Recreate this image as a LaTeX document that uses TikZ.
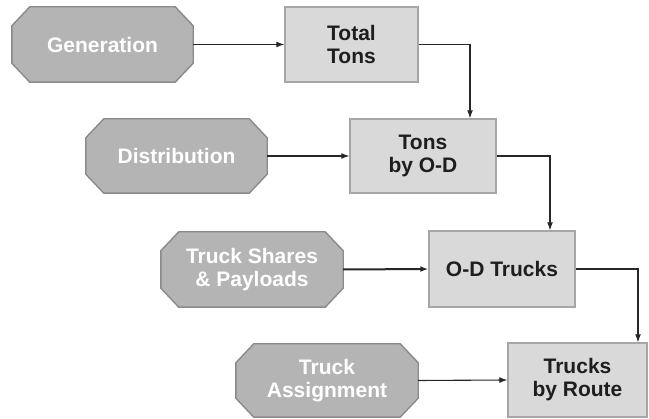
\documentclass[tikz,border=0pt]{standalone}
\usepackage{fontspec}
\setmainfont{Liberation Sans}
\usetikzlibrary{arrows.meta,calc}
\definecolor{octfill}{HTML}{B4B4B4}
\definecolor{octline}{HTML}{8A8A8A}
\definecolor{boxfill}{HTML}{D9D9D9}
\definecolor{boxline}{HTML}{A6A6A6}
\definecolor{txtdark}{HTML}{1E1E1E}
\pgfdeclarelayer{bg}
\pgfsetlayers{bg,main}
\newcommand\octashape[1]{%
  \begin{pgfonlayer}{bg}
  \draw[octpath] ($(#1.north west)+(18,0)$) -- ($(#1.north east)+(-18,0)$)
    -- ($(#1.north east)+(0,19)$) -- ($(#1.south east)+(0,-19)$)
    -- ($(#1.south east)+(-18,0)$) -- ($(#1.south west)+(18,0)$)
    -- ($(#1.south west)+(0,-19)$) -- ($(#1.north west)+(0,19)$) -- cycle;
  \end{pgfonlayer}}
\begin{document}
\begin{tikzpicture}[x=1pt,y=-1pt,
  octa/.style={rectangle, inner sep=0pt,
    font=\fontsize{21}{23}\selectfont\bfseries, text=white, align=center},
  octpath/.style={fill=octfill, draw=octline, line width=1.4pt, line join=miter},
  boxn/.style={rectangle, fill=boxfill, draw=boxline, line width=1.4pt, inner sep=0pt,
    font=\fontsize{21}{23}\selectfont\bfseries, text=txtdark, align=center},
  conn/.style={draw=black!85, line width=1.1pt, -{Latex[length=8pt,width=6pt]}},
  connthick/.style={draw=black!85, line width=2pt, -{Latex[length=8pt,width=6pt]}}
]
\useasboundingbox (0,0) rectangle (649,419);
% octagons
\node[octa, minimum width=181pt, minimum height=75pt] (gen) at (102.5,44.5) {Generation};
\node[octa, minimum width=181pt, minimum height=74pt] (dist) at (176.5,156) {Distribution};
\node[octa, minimum width=182pt, minimum height=75pt] (tsp) at (252,269.5) {Truck Shares\\\& Payloads};
\node[octa, minimum width=182pt, minimum height=73pt] (ta) at (327,380.5) {Truck\\Assignment};
\octashape{gen}
\octashape{dist}
\octashape{tsp}
\octashape{ta}
% boxes
\node[boxn, minimum width=133pt, minimum height=75pt] (tot) at (351.5,44.5) {Total\\Tons};
\node[boxn, minimum width=146pt, minimum height=74pt] (tod) at (423,156) {Tons\\by O-D};
\node[boxn, minimum width=146pt, minimum height=76pt] (odt) at (502,269) {O-D Trucks};
\node[boxn, minimum width=139pt, minimum height=74pt] (tbr) at (577.5,380) {Trucks\\by Route};
% connectors
\draw[conn] (gen.east) -- (tot.west);
\draw[conn] (tot.east) -| ([xshift=47pt]tod.north);
\draw[conn] (dist.east) -- (tod.west);
\draw[conn] (tod.east) -| ([xshift=48pt]odt.north);
\draw[connthick] (tsp.east) -- (odt.west);
\draw[conn] (odt.east) -| ([xshift=60.5pt]tbr.north);
\draw[conn] (ta.east) -- (tbr.west);
\end{tikzpicture}
\end{document}
